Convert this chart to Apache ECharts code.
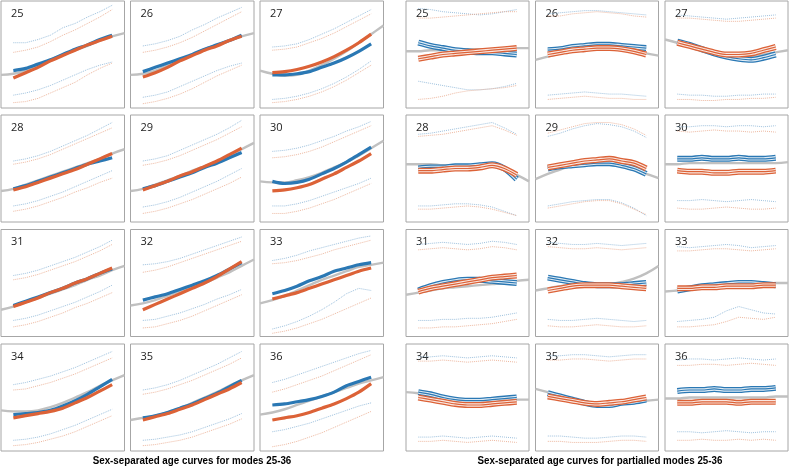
<!DOCTYPE html>
<html>
<head>
<meta charset="utf-8">
<script src="https://cdn.jsdelivr.net/npm/echarts@6/dist/echarts.min.js"></script>
<style>html,body{margin:0;padding:0;background:#fff;}#c{width:791px;height:470px;}</style>
</head>
<body>
<div id="c"></div>
<script>
// ---------- DATA ----------
const panelLabels = ['25','26','27','28','29','30','31','32','33','34','35','36'];
const grayX = [0,10,20,30,40,50,60,70,80,90,100];
const lineX = [10,20,30,40,50,60,70,80,90];
const titles = ['Sex-separated age curves for modes 25-36', 'Sex-separated age curves for partialled modes 25-36'];

// Left block: sex-separated age curves (values 0..100, bottom..top of each panel)
const leftGray = [
  [31,32,35,40,45,50,54,58,63,67,70],
  [31,32,35,40,45,50,55,59,63,67,70],
  [35,32,30,31,35,40,46,53,61,69,77],
  [29,31,35,39,43,47,51,55,59,64,68],
  [29,31,35,39,43,48,52,57,62,68,74],
  [38,37,37,39,42,46,51,56,62,69,76],
  [25,28,32,36,40,44,48,53,57,62,66],
  [29,31,34,38,42,46,50,55,60,66,72],
  [31,34,38,43,48,53,57,61,65,67,69],
  [38,37,37,38,41,45,50,55,61,66,71],
  [29,31,33,36,40,45,50,55,61,66,71],
  [34,36,39,43,47,51,55,59,63,66,69]
];
const leftBlue = [
  [35,37,41,45,50,55,59,64,68],
  [34,38,42,46,50,55,59,63,68],
  [31,31,32,34,38,42,47,53,60],
  [31,34,38,42,46,50,54,57,60],
  [31,34,38,42,46,51,55,60,65],
  [38,36,37,40,45,50,56,63,70],
  [29,33,37,41,45,50,54,59,63],
  [34,37,40,44,48,52,57,63,69],
  [40,43,47,52,56,61,64,67,69],
  [34,35,36,38,42,47,53,60,67],
  [31,33,36,40,44,49,54,60,66],
  [43,44,46,48,51,55,61,65,69]
];
const leftOrange = [
  [28,33,38,44,49,54,59,63,67],
  [29,33,38,44,49,54,58,63,67],
  [33,34,36,39,43,48,54,61,69],
  [30,33,37,41,45,49,54,59,64],
  [30,34,38,43,47,52,57,63,69],
  [29,30,32,35,40,45,51,57,64],
  [28,32,36,41,45,50,54,59,64],
  [25,30,35,40,45,50,56,63,70],
  [35,38,41,45,49,53,57,61,64],
  [31,33,35,37,40,45,50,56,62],
  [29,32,35,39,43,48,53,58,64],
  [29,31,33,36,40,44,49,55,63]
];
const leftBlueUp = [
  [61,61,64,68,75,79,85,90,96],
  [58,60,63,67,73,78,84,89,94],
  [57,58,60,64,69,74,80,86,92],
  [57,59,62,66,71,76,81,87,93],
  [57,59,62,67,72,77,82,88,95],
  [66,67,69,72,76,80,85,89,94],
  [57,59,62,66,70,74,79,84,90],
  [67,68,70,73,77,81,85,89,93],
  [71,73,76,80,83,86,89,92,94],
  [62,64,67,70,74,78,83,88,93],
  [57,59,62,66,71,76,81,87,93],
  [64,67,71,75,79,83,87,91,94]
];
const leftOrangeUp = [
  [52,54,57,62,68,73,79,85,92],
  [52,54,57,61,66,72,78,84,90],
  [54,55,57,61,65,70,76,82,88],
  [54,56,59,63,68,73,78,83,88],
  [53,55,58,62,67,72,77,83,89],
  [60,61,63,66,70,75,80,85,90],
  [53,55,58,62,66,70,75,80,86],
  [60,62,65,69,73,77,81,85,89],
  [68,69,71,74,77,81,84,87,90],
  [57,58,61,64,68,72,77,82,87],
  [53,55,58,62,66,71,76,81,87],
  [55,58,62,66,70,75,80,85,90]
];
const leftBlueLo = [
  [12,14,17,21,26,31,36,40,43],
  [10,12,15,20,25,30,35,39,42],
  [8,9,11,14,18,23,29,36,44],
  [15,17,20,24,28,33,38,43,48],
  [14,16,19,23,28,33,38,44,50],
  [15,15,17,20,24,28,32,36,41],
  [15,17,20,24,28,32,37,42,48],
  [15,16,19,22,26,30,35,39,44],
  [7,10,14,19,25,32,40,45,43],
  [10,11,13,16,20,24,29,34,39],
  [10,11,13,15,18,22,26,30,35],
  [18,20,23,26,30,34,38,42,45]
];
const leftOrangeLo = [
  [5,6,9,14,19,24,31,37,42],
  [4,6,9,13,18,24,30,35,40],
  [5,6,8,11,15,20,26,33,40],
  [10,12,15,19,23,28,32,37,41],
  [8,10,13,17,21,26,31,36,42],
  [8,8,10,13,17,21,26,31,36],
  [9,11,14,18,22,27,31,36,41],
  [8,9,12,15,19,24,29,34,39],
  [3,5,8,12,16,21,26,31,36],
  [5,6,8,11,14,18,23,28,33],
  [5,6,8,10,13,17,21,25,30],
  [4,6,9,13,17,22,27,32,37]
];

// Right block: partialled modes
const rightGray = [
  [53,53,54,54,54,55,55,55,55,56,56],
  [45,48,51,54,56,57,56,55,53,51,49],
  [64,61,57,53,50,48,47,48,50,52,54],
  [54,54,54,53,53,53,52,52,49,44,38],
  [40,45,49,53,56,57,56,53,49,45,41],
  [54,54,55,55,55,55,55,55,55,55,56],
  [39,41,43,45,46,47,48,49,50,52,53],
  [43,45,47,48,48,48,49,51,54,59,66],
  [42,43,44,45,46,47,48,49,49,50,50],
  [55,54,52,49,47,46,46,47,47,48,48],
  [58,55,52,49,46,44,43,44,46,47,48],
  [49,49,50,50,50,50,50,50,50,51,51]
];
const rightBlue = [
  [61,58,56,54,53,52,52,51,50],
  [54,55,57,58,59,59,58,57,56],
  [62,59,55,51,48,46,45,47,50],
  [50,51,51,52,52,53,54,50,40],
  [50,52,53,54,55,55,53,50,45],
  [59,59,60,59,59,60,59,59,60],
  [43,47,50,52,53,53,52,51,50],
  [55,53,51,49,48,48,48,49,50],
  [43,45,47,48,49,50,50,49,48],
  [55,53,50,48,47,47,48,49,50],
  [54,51,48,45,43,43,45,46,48],
  [56,57,57,58,57,57,58,58,59]
];
const rightOrange = [
  [46,48,50,51,52,53,54,55,56],
  [50,52,54,55,56,56,55,53,50],
  [61,58,55,52,50,50,51,54,57],
  [48,48,49,50,50,51,53,50,44],
  [51,53,55,57,58,59,57,55,50],
  [48,47,47,46,46,47,47,47,48],
  [42,45,47,49,51,53,55,56,57],
  [43,45,47,48,48,48,47,46,45],
  [45,45,46,46,47,47,47,48,48],
  [50,48,46,44,43,43,44,45,46],
  [51,49,47,45,44,45,46,48,50],
  [45,45,46,46,46,45,46,46,46]
];
const rightBlueUp = [
  [93,92,90,89,88,87,88,90,92],
  [88,89,90,91,91,90,89,88,87],
  [87,86,85,84,83,84,85,86,87],
  [82,83,85,87,89,91,93,88,82],
  [80,83,87,90,92,91,89,85,79],
  [89,89,90,90,89,90,90,89,90],
  [86,87,88,87,86,87,89,88,86],
  [88,87,86,86,87,86,85,86,87],
  [84,83,84,85,86,85,83,84,85],
  [88,88,89,88,87,88,89,88,87],
  [89,89,90,90,89,88,89,90,90],
  [85,86,86,85,86,87,86,85,86]
];
const rightOrangeUp = [
  [84,84,85,86,87,88,89,90,90],
  [86,86,88,89,90,89,88,86,85],
  [84,84,83,82,81,81,82,83,84],
  [80,81,82,84,86,88,90,86,81],
  [83,86,89,92,93,93,91,87,81],
  [85,84,85,86,85,85,84,85,84],
  [81,82,83,82,81,82,84,83,81],
  [84,83,82,82,83,82,81,82,83],
  [80,80,81,82,82,81,80,81,82],
  [84,84,85,84,83,84,85,84,83],
  [85,85,86,86,85,84,85,86,86],
  [80,80,81,81,80,81,82,81,80]
];
const rightBlueLo = [
  [25,23,21,19,17,17,18,20,23],
  [12,13,14,15,14,13,13,12,11],
  [13,12,12,11,11,12,12,13,13],
  [15,15,16,17,17,16,14,10,6],
  [15,17,19,20,21,21,18,13,6],
  [20,20,21,20,19,20,21,20,19],
  [15,15,16,16,17,17,18,20,22],
  [16,15,15,16,17,16,15,14,15],
  [14,15,16,18,24,28,25,22,21],
  [13,13,14,13,12,13,14,13,12],
  [14,14,13,12,12,13,14,14,13],
  [18,18,17,18,19,18,17,18,18]
];
const rightOrangeLo = [
  [8,9,11,14,16,17,18,19,21],
  [8,9,10,11,10,9,9,8,8],
  [8,8,7,7,8,8,9,9,10],
  [12,12,13,14,15,14,12,9,6],
  [13,15,17,19,20,20,17,12,7],
  [13,12,12,13,14,13,12,12,13],
  [8,8,9,9,10,11,12,14,16],
  [10,9,9,10,11,10,9,9,10],
  [9,9,10,11,14,18,17,16,18],
  [9,9,10,9,8,9,10,9,8],
  [9,9,8,8,8,9,10,10,9],
  [10,10,11,10,10,11,10,11,10]
];

// ---------- BUILD ----------
const BLUE = '#2a78b4', ORANGE = '#dc6237', GRAY = '#c0c0c0';
const BLUE_DOT = '#86b2d4', ORANGE_DOT = '#e9a688';
const blocks = [
  {cols:[1,130.5,260], w:123.5, gray:leftGray, blue:leftBlue, orange:leftOrange, bu:leftBlueUp, ou:leftOrangeUp, bl:leftBlueLo, ol:leftOrangeLo, striped:false},
  {cols:[406,535.5,665], w:123, gray:rightGray, blue:rightBlue, orange:rightOrange, bu:rightBlueUp, ou:rightOrangeUp, bl:rightBlueLo, ol:rightOrangeLo, striped:true}
];
const rows = [1,115,229.5,344];
const H = 107;

const pairs = (xs, ys) => xs.map((x,i)=>[x, ys[i]]);
const grid = [], xAxis = [], yAxis = [], series = [], graphic = [];
let gi = 0;
blocks.forEach((b) => {
  for (let p = 0; p < 12; p++) {
    const r = Math.floor(p/3), c = p%3;
    const left = b.cols[c], top = rows[r];
    grid.push({left:left, top:top, width:b.w, height:H, show:true, borderColor:'#a6a6a6', borderWidth:1, backgroundColor:'#fff'});
    xAxis.push({type:'value', gridIndex:gi, min:0, max:100, show:false});
    yAxis.push({type:'value', gridIndex:gi, min:0, max:100, show:false});
    const base = {type:'line', xAxisIndex:gi, yAxisIndex:gi, symbol:'none', silent:true, animation:false};
    const dot = (data, color) => Object.assign({}, base, {data:pairs(lineX, data), lineStyle:{type:'dotted', width:1, color:color, opacity:0.8}});
    series.push(dot(b.bu[p], BLUE_DOT), dot(b.ou[p], ORANGE_DOT), dot(b.bl[p], BLUE_DOT), dot(b.ol[p], ORANGE_DOT));
    series.push(Object.assign({}, base, {data:pairs(grayX, b.gray[p]), smooth:0.4, lineStyle:{width:2.4, color:GRAY}}));
    [[b.blue[p], BLUE], [b.orange[p], ORANGE]].forEach(([d, col]) => {
      const data = pairs(lineX, d);
      if (b.striped) {
        series.push(Object.assign({}, base, {data, smooth:0.3, lineStyle:{width:6, color:col}}));
        series.push(Object.assign({}, base, {data, smooth:0.3, lineStyle:{width:3.4, color:'#ffffff', opacity:0.85}}));
        series.push(Object.assign({}, base, {data, smooth:0.3, lineStyle:{width:1.2, color:col}}));
      } else {
        series.push(Object.assign({}, base, {data, smooth:0.3, lineStyle:{width:3.2, color:col}}));
      }
    });
    graphic.push({type:'text', left:left+10, top:top+7, style:{text:panelLabels[p], font:'11px "Open Sans", sans-serif', fill:'#222'}});
    gi++;
  }
});
graphic.push({type:'text', x:192, y:461, scaleX:0.89, style:{text:titles[0], font:'bold 11px "Liberation Sans Narrow", "Liberation Sans", sans-serif', fill:'#000', textAlign:'center', textVerticalAlign:'middle'}});
graphic.push({type:'text', x:600, y:461, scaleX:0.89, style:{text:titles[1], font:'bold 11px "Liberation Sans Narrow", "Liberation Sans", sans-serif', fill:'#000', textAlign:'center', textVerticalAlign:'middle'}});

const chart = echarts.init(document.getElementById('c'), null, {renderer:'canvas'});
chart.setOption({animation:false, backgroundColor:'#fff', grid, xAxis, yAxis, series, graphic});
</script>
</body>
</html>
